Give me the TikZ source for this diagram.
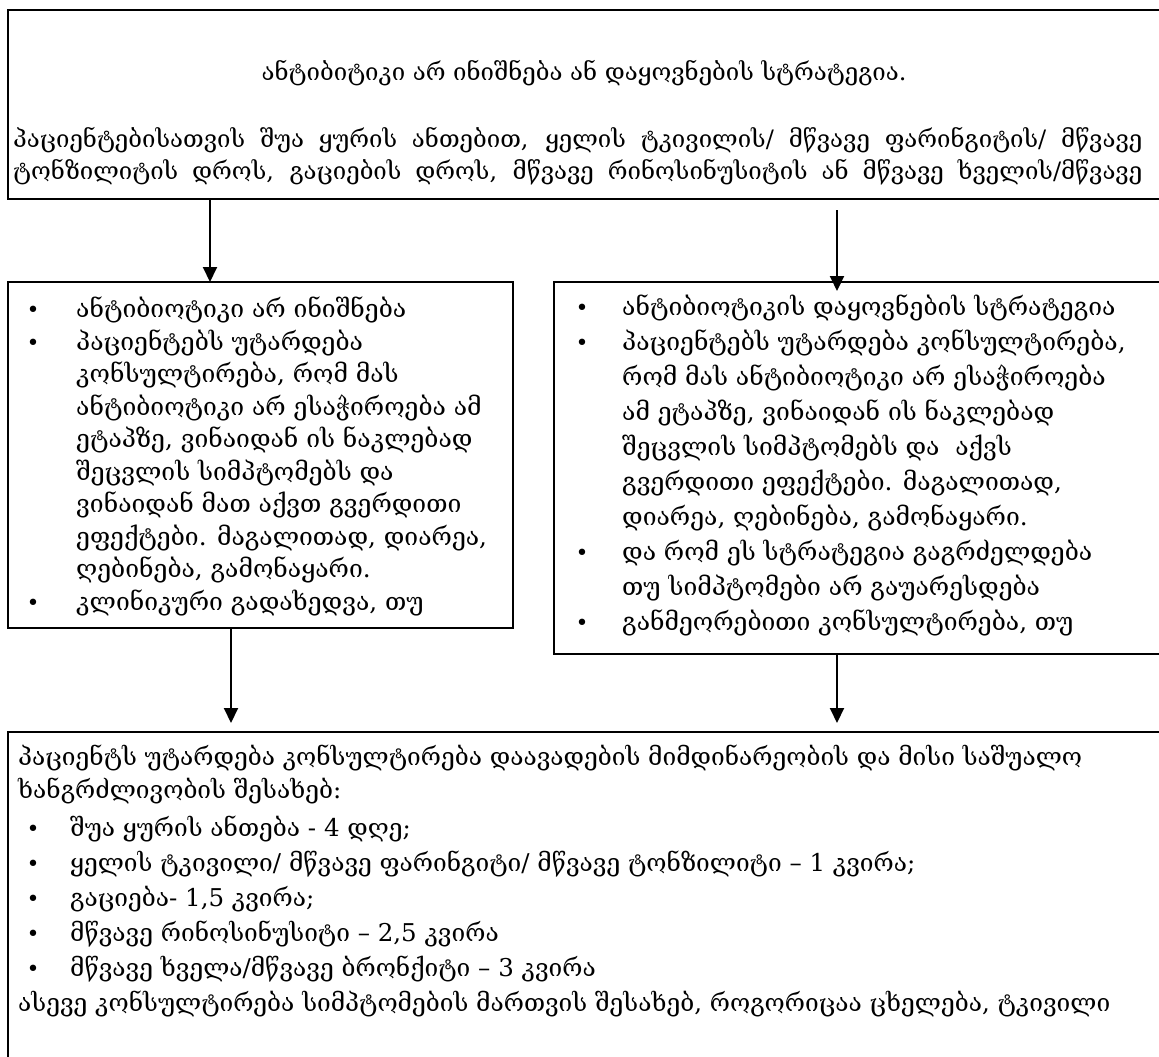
\documentclass[tikz,border=0pt]{standalone}
\usepackage{fontspec}
\setmainfont{DejaVu Serif}
\usetikzlibrary{arrows.meta,calc}
\begin{document}
\begin{tikzpicture}[x=1pt,y=-1pt,
  box/.style={draw, line width=2pt, rectangle, inner sep=0pt, outer sep=0pt, anchor=north west},
  arr/.style={line width=2pt, -{Triangle[width=14pt,length=15pt]}},
  txt/.style={anchor=mid west, inner sep=0pt},
  ttop/.style={txt, font=\fontsize{24}{29}\selectfont},
  tmid/.style={txt, font=\fontsize{24.7}{30}\selectfont},
  tbot/.style={txt, font=\fontsize{24.5}{30}\selectfont},
  bul/.style={anchor=mid, inner sep=0pt, font=\fontsize{22}{26}\selectfont}]
\path[use as bounding box] (0,0) rectangle (1159,1057);
\clip (0,0) rectangle (1159,1057);
% boxes
\node[box, minimum width=1170pt, minimum height=189pt] (top) at (8,10) {};
\node[box, minimum width=505pt, minimum height=346pt] (left) at (8,282) {};
\node[box, minimum width=620pt, minimum height=372pt] (right) at (554,282) {};
\node[box, minimum width=1170pt, minimum height=400pt] (bot) at (8,732) {};
% arrows
\coordinate (xA) at (210,0);
\coordinate (xB) at (837,0);
\coordinate (xC) at (231,0);
\draw[arr] (top.south -| xA) -- (left.north -| xA);
\draw[arr] ($(top.south -| xB)+(0,11)$) -- ($(right.north -| xB)+(0,9)$);
\draw[arr] (left.south -| xC) -- ($(bot.north -| xC)+(0,-9)$);
\draw[arr] (right.south -| xB) -- ($(bot.north -| xB)+(0,-9)$);
% top box text
\node[ttop, anchor=mid] (title) at (584,78) {ანტიბიტიკი არ ინიშნება ან დაყოვნების სტრატეგია.};
\node[ttop] (tl1) at (13,145) {\makebox[1129pt][s]{პაციენტებისათვის შუა ყურის ანთებით, ყელის ტკივილის/ მწვავე ფარინგიტის/ მწვავე}};
\node[ttop] (tl2) at (13,177) {\makebox[1129pt][s]{ტონზილიტის დროს, გაციების დროს, მწვავე რინოსინუსიტის ან მწვავე ხველის/მწვავე}};
% left box
\node[bul] (lb1) at (33,315) {•};
\node[bul] (lb2) at (33,347.5) {•};
\node[bul] (lb3) at (33,607.5) {•};
\node[tmid] (l1) at (76,315) {ანტიბიოტიკი არ ინიშნება};
\node[tmid] (l2) at (76,347.5) {პაციენტებს უტარდება};
\node[tmid] (l3) at (76,380) {კონსულტირება, რომ მას};
\node[tmid] (l4) at (76,412.5) {ანტიბიოტიკი არ ესაჭიროება ამ};
\node[tmid] (l5) at (76,445) {ეტაპზე, ვინაიდან ის ნაკლებად};
\node[tmid] (l6) at (76,477.5) {შეცვლის სიმპტომებს და};
\node[tmid] (l7) at (76,510) {ვინაიდან მათ აქვთ გვერდითი};
\node[tmid] (l8) at (76,542.5) {ეფექტები. მაგალითად, დიარეა,};
\node[tmid] (l9) at (76,575) {ღებინება, გამონაყარი.};
\node[tmid] (l10) at (76,607.5) {კლინიკური გადახედვა, თუ};
% right box
\node[bul] (rb1) at (582,313) {•};
\node[bul] (rb2) at (582,348) {•};
\node[bul] (rb3) at (582,558) {•};
\node[bul] (rb4) at (582,628) {•};
\node[tmid] (r1) at (622,313) {ანტიბიოტიკის დაყოვნების სტრატეგია};
\node[tmid] (r2) at (622,348) {პაციენტებს უტარდება კონსულტირება,};
\node[tmid] (r3) at (622,383) {რომ მას ანტიბიოტიკი არ ესაჭიროება};
\node[tmid] (r4) at (622,418) {ამ ეტაპზე, ვინაიდან ის ნაკლებად};
\node[tmid] (r5) at (622,453) {შეცვლის სიმპტომებს და\ \ აქვს};
\node[tmid] (r6) at (622,488) {გვერდითი ეფექტები. მაგალითად,};
\node[tmid] (r7) at (622,523) {დიარეა, ღებინება, გამონაყარი.};
\node[tmid] (r8) at (622,558) {და რომ ეს სტრატეგია გაგრძელდება};
\node[tmid] (r9) at (622,593) {თუ სიმპტომები არ გაუარესდება};
\node[tmid] (r10) at (622,628) {განმეორებითი კონსულტირება, თუ};
% bottom box
\node[tbot] (b1) at (18,763) {პაციენტს უტარდება კონსულტირება დაავადების მიმდინარეობის და მისი საშუალო};
\node[tbot] (b2) at (18,796) {ხანგრძლივობის შესახებ:};
\node[bul] (bb1) at (33,834) {•};
\node[bul] (bb2) at (33,869) {•};
\node[bul] (bb3) at (33,904) {•};
\node[bul] (bb4) at (33,939) {•};
\node[bul] (bb5) at (33,974) {•};
\node[tbot] (b3) at (70,834) {შუა ყურის ანთება - 4 დღე;};
\node[tbot] (b4) at (70,869) {ყელის ტკივილი/ მწვავე ფარინგიტი/ მწვავე ტონზილიტი – 1 კვირა;};
\node[tbot] (b5) at (70,904) {გაციება- 1,5 კვირა;};
\node[tbot] (b6) at (70,939) {მწვავე რინოსინუსიტი – 2,5 კვირა};
\node[tbot] (b7) at (70,974) {მწვავე ხველა/მწვავე ბრონქიტი – 3 კვირა};
\node[tbot] (b8) at (18,1009) {ასევე კონსულტირება სიმპტომების მართვის შესახებ, როგორიცაა ცხელება, ტკივილი};
\end{tikzpicture}
\end{document}
